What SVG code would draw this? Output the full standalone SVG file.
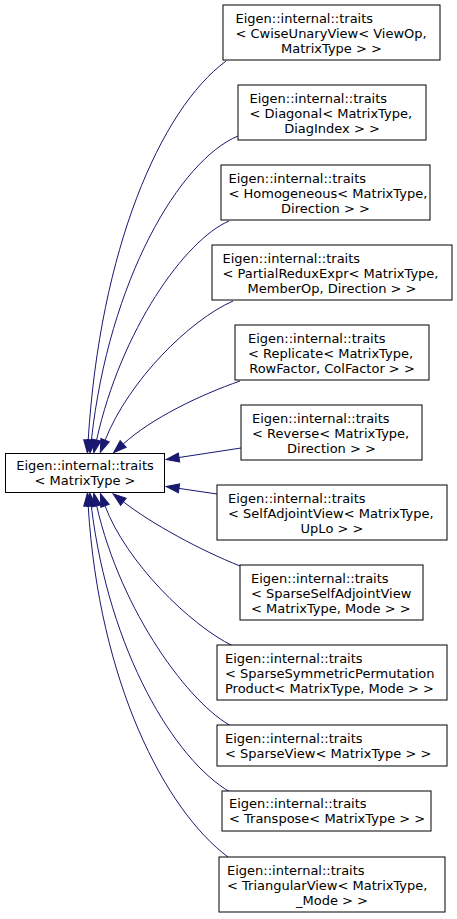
<svg xmlns="http://www.w3.org/2000/svg" width="457" height="919" viewBox="0 0 457 919">
<defs>
<style>
.box{fill:#fff;stroke:#000;stroke-width:1}
.t{font-family:"DejaVu Sans",sans-serif;font-size:13px;fill:#000}
.m{text-anchor:middle}
.e{fill:none;stroke:#191970;stroke-width:1;marker-end:url(#ah)}
</style>
<marker id="ah" markerUnits="userSpaceOnUse" markerWidth="14" markerHeight="10" refX="0" refY="4.5" orient="auto" overflow="visible">
<path d="M0,0 L13,4.5 L0,9 Z" fill="#191970" stroke="#191970" stroke-width="1"/>
</marker>
</defs>
<rect width="457" height="919" fill="#fff"/>
<g id="connectors">
<path class="e" d="M226,61 C160,110 100,250 88.2,440"/>
<path class="e" d="M238,136 C180,160 109,280 91.4,440"/>
<path class="e" d="M229,221 C185,240 121,330 96.6,440"/>
<path class="e" d="M233,301 C190,320 129,380 105.1,440.2"/>
<path class="e" d="M240,381 C200,395 152,418 123.2,444"/>
<path class="e" d="M241,448 L179,457.5"/>
<path class="e" d="M217,494 L179,488.4"/>
<path class="e" d="M240,566 C200,550 152,524 123.4,501.8"/>
<path class="e" d="M233,646 C190,625 126,562 105,505.8"/>
<path class="e" d="M233,727 C190,705 121,612 96.7,505.9"/>
<path class="e" d="M230,792 C175,760 109,652 91.3,506"/>
<path class="e" d="M228,857 C165,810 99,682 88.2,506"/>
</g>
<g id="base">
<rect class="box" x="5.5" y="453.5" width="159" height="39"/>
<text class="t m" x="85" y="470">Eigen::internal::traits</text>
<text class="t m" x="85" y="485">&lt; MatrixType &gt;</text>
</g>
<g id="n1">
<rect class="box" x="223" y="5" width="217" height="55"/>
<text class="t" x="235.5" y="22.5">Eigen::internal::traits</text>
<text class="t" x="235.5" y="37.5">&lt; CwiseUnaryView&lt; ViewOp,</text>
<text class="t m" x="331.5" y="52.5">MatrixType &gt; &gt;</text>
</g>
<g id="n2">
<rect class="box" x="238" y="85" width="188" height="55"/>
<text class="t" x="249.5" y="102.5">Eigen::internal::traits</text>
<text class="t" x="249.5" y="117.5">&lt; Diagonal&lt; MatrixType,</text>
<text class="t m" x="332" y="132.5">DiagIndex &gt; &gt;</text>
</g>
<g id="n3">
<rect class="box" x="221" y="165" width="209" height="55"/>
<text class="t" x="228.5" y="182.5">Eigen::internal::traits</text>
<text class="t" x="228.5" y="197.5">&lt; Homogeneous&lt; MatrixType,</text>
<text class="t m" x="325.5" y="212.5">Direction &gt; &gt;</text>
</g>
<g id="n4">
<rect class="box" x="212" y="245" width="240" height="55"/>
<text class="t" x="222.5" y="262.5">Eigen::internal::traits</text>
<text class="t" x="222.5" y="277.5">&lt; PartialReduxExpr&lt; MatrixType,</text>
<text class="t m" x="332" y="292.5">MemberOp, Direction &gt; &gt;</text>
</g>
<g id="n5">
<rect class="box" x="235" y="325" width="194" height="55"/>
<text class="t" x="248" y="342.5">Eigen::internal::traits</text>
<text class="t" x="248" y="357.5">&lt; Replicate&lt; MatrixType,</text>
<text class="t m" x="332" y="372.5">RowFactor, ColFactor &gt; &gt;</text>
</g>
<g id="n6">
<rect class="box" x="241" y="405" width="181" height="55"/>
<text class="t" x="252" y="422.5">Eigen::internal::traits</text>
<text class="t" x="252" y="437.5">&lt; Reverse&lt; MatrixType,</text>
<text class="t m" x="331.5" y="452.5">Direction &gt; &gt;</text>
</g>
<g id="n7">
<rect class="box" x="217" y="485" width="230" height="55"/>
<text class="t" x="228" y="502.5">Eigen::internal::traits</text>
<text class="t" x="228" y="517.5">&lt; SelfAdjointView&lt; MatrixType,</text>
<text class="t m" x="332" y="532.5">UpLo &gt; &gt;</text>
</g>
<g id="n8">
<rect class="box" x="240" y="565" width="183" height="55"/>
<text class="t" x="251" y="582.5">Eigen::internal::traits</text>
<text class="t" x="251" y="597.5">&lt; SparseSelfAdjointView</text>
<text class="t" x="251" y="612.5">&lt; MatrixType, Mode &gt; &gt;</text>
</g>
<g id="n9">
<rect class="box" x="217" y="645" width="230" height="55"/>
<text class="t" x="225" y="662.5">Eigen::internal::traits</text>
<text class="t" x="225" y="677.5">&lt; SparseSymmetricPermutation</text>
<text class="t" x="225" y="692.5">Product&lt; MatrixType, Mode &gt; &gt;</text>
</g>
<g id="n10">
<rect class="box" x="217" y="725" width="230" height="41"/>
<text class="t" x="225" y="742.5">Eigen::internal::traits</text>
<text class="t" x="225" y="757.5">&lt; SparseView&lt; MatrixType &gt; &gt;</text>
</g>
<g id="n11">
<rect class="box" x="222" y="791" width="209" height="40"/>
<text class="t" x="229" y="808">Eigen::internal::traits</text>
<text class="t" x="229" y="823">&lt; Transpose&lt; MatrixType &gt; &gt;</text>
</g>
<g id="n12">
<rect class="box" x="219" y="857" width="226" height="55"/>
<text class="t" x="227" y="874.5">Eigen::internal::traits</text>
<text class="t" x="227" y="889.5">&lt; TriangularView&lt; MatrixType,</text>
<text class="t m" x="332" y="904.5">_Mode &gt; &gt;</text>
</g>
</svg>
